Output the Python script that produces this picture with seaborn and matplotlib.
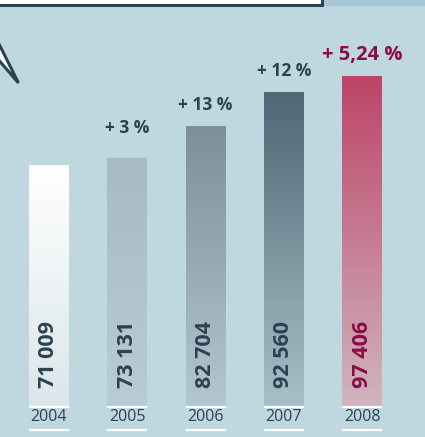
"""Bar chart with gradient bars, speech-bubble style"""
import numpy as np
import pandas as pd
import matplotlib
matplotlib.use("Agg")
import matplotlib.pyplot as plt
from matplotlib.colors import LinearSegmentedColormap
from matplotlib.patches import Polygon, Rectangle
import seaborn as sns


### Data
years = ["2004", "2005", "2006", "2007", "2008"]
values = [71009, 73131, 82704, 92560, 97406]
value_labels = ["71 009", "73 131", "82 704", "92 560", "97 406"]
growth_labels = ["", "+ 3 %", "+ 13 %", "+ 12 %", "+ 5,24 %"]

# gradient (top, bottom) for each bar
grad_colors = [
    ("#ffffff", "#dbe6ea"),
    ("#a6bbc5", "#b8ccd4"),
    ("#7d8f9b", "#b3c7cf"),
    ("#506674", "#a9bfc8"),
    ("#bd4467", "#d0b5bf"),
]

BG = "#bfd8df"
DARK = "#2b4251"
RED = "#8a0c45"

W, H = 425, 437
BASE_PX = 406          # pixel row of the bar baseline
SCALE = 0.00339        # pixels per unit

sns.set_theme(style="white")
plt.rcParams["font.family"] = ["Open Sans", "DejaVu Sans"]

fig = plt.figure(figsize=(W / 100, H / 100), dpi=100)
fig.patch.set_facecolor(BG)

ax = fig.add_axes([0, 0, 1, 1])
ax.set_facecolor(BG)

df = pd.DataFrame({"year": years, "value": values})
sns.barplot(data=df, x="year", y="value", ax=ax, width=0.51,
            color="white", saturation=1, edgecolor="none")

step = 78.3
ax.set_xlim(-49 / step, (W - 49) / step)
ax.set_ylim(-(H - BASE_PX) / SCALE, BASE_PX / SCALE)
ax.axis("off")


def px(dy):
    # convert a pixel distance into data units
    return dy / SCALE


# gradient fill clipped to each bar
for i, patch in enumerate(ax.patches):
    x0, y0 = patch.get_x(), patch.get_y()
    w, h = patch.get_width(), patch.get_height()
    top, bottom = grad_colors[i]
    cmap = LinearSegmentedColormap.from_list("g%d" % i, [bottom, top])
    grad = np.linspace(0, 1, 256).reshape(-1, 1)
    im = ax.imshow(grad, cmap=cmap, aspect="auto", origin="lower",
                   extent=[x0, x0 + w, y0, y0 + h], zorder=2)
    im.set_clip_path(patch)
    patch.set_facecolor("none")

    cx = x0 + w / 2
    is_last = i == len(values) - 1
    col = RED if is_last else DARK

    # value inside bar, rotated
    ax.text(cx, px(18), value_labels[i], rotation=90, ha="center", va="bottom",
            fontsize=15.5, fontweight="bold", color=col, zorder=3)

    # growth label above bar
    if growth_labels[i]:
        gap = 30 if i == 1 else 21
        ax.text(cx, values[i] + px(gap), growth_labels[i], ha="center",
                va="center", fontsize=14.5 if is_last else 12.5,
                fontweight="bold", color=col, zorder=3)

    # white rules and year label
    ax.plot([x0, x0 + w], [px(-1.2), px(-1.2)], color="white", lw=1.6,
            solid_capstyle="butt", zorder=3)
    ax.plot([x0, x0 + w], [px(-23.5), px(-23.5)], color="white", lw=1.6,
            solid_capstyle="butt", zorder=3)
    ax.text(cx, px(-11), years[i], ha="center", va="center", fontsize=11.5,
            color=DARK, zorder=3)

# decorations in pixel coordinates
deco = fig.add_axes([0, 0, 1, 1], facecolor="none")
deco.set_xlim(0, W)
deco.set_ylim(H, 0)
deco.axis("off")

deco.add_patch(Rectangle((323, -2), 110, 8, facecolor="#a5c8d4",
                         edgecolor="none"))
deco.add_patch(Rectangle((-5, -10), 327, 15, facecolor="white",
                         edgecolor=DARK, lw=2.2))
deco.add_patch(Polygon([(-3, 40), (18.5, 83), (-3, 58)], closed=False,
                       facecolor="white", edgecolor=DARK, lw=2.2,
                       joinstyle="miter"))

fig.savefig("out.png", dpi=100, facecolor=BG)
